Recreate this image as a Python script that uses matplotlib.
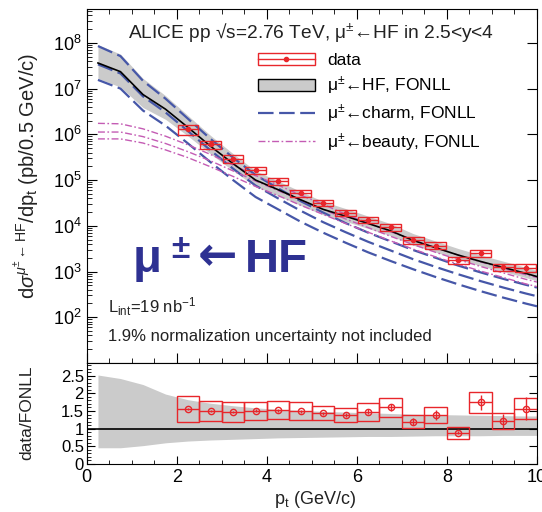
import numpy as np
import matplotlib
matplotlib.use("Agg")
import matplotlib.pyplot as plt
from matplotlib.patches import Rectangle, Patch
from matplotlib.lines import Line2D
from matplotlib.ticker import MultipleLocator, LogLocator, FixedLocator, NullFormatter

plt.rcParams["font.family"] = ["Liberation Sans", "DejaVu Sans"]
plt.rcParams["mathtext.fontset"] = "custom"
plt.rcParams["mathtext.rm"] = "Liberation Sans"
plt.rcParams["mathtext.it"] = "Liberation Sans:italic"
plt.rcParams["mathtext.bf"] = "Liberation Sans:bold"

# measured cross section (pb / 0.5 GeV/c), bins of 0.5 GeV/c
pt_data = [2.25, 2.75, 3.25, 3.75, 4.25, 4.75, 5.25, 5.75,
           6.25, 6.75, 7.25, 7.75, 8.25, 8.75, 9.25, 9.75]
xsec = [1.3e6, 6.0e5, 2.95e5, 1.64e5, 9.4e4, 5.2e4, 3.15e4, 1.9e4,
        1.36e4, 9.4e3, 4.8e3, 3.7e3, 1.76e3, 2.54e3, 1.26e3, 1.22e3]
syst_rel = [0.24, 0.19, 0.19, 0.17, 0.17, 0.17, 0.14, 0.15,
            0.17, 0.17, 0.16, 0.17, 0.19, 0.17, 0.18, 0.19]
stat_rel = [0.02, 0.02, 0.02, 0.03, 0.03, 0.03, 0.03, 0.04,
            0.05, 0.06, 0.09, 0.10, 0.06, 0.12, 0.17, 0.20]
ratio = [1.55, 1.50, 1.48, 1.51, 1.52, 1.49, 1.44, 1.39,
         1.48, 1.60, 1.20, 1.39, 0.89, 1.75, 1.22, 1.57]

# FONLL predictions (log10 of pb / 0.5 GeV/c)
pt_th = [0.25, 0.75, 1.25, 1.75, 2.25, 2.75, 3.25, 3.75, 4.25, 4.75, 5.25,
         5.75, 6.25, 6.75, 7.25, 7.75, 8.25, 8.75, 9.25, 9.75, 10.0]
hf_log = [7.56, 7.37, 6.87, 6.55, 6.15, 5.74, 5.36, 5.00, 4.79, 4.57, 4.36,
          4.21, 4.05, 3.89, 3.68, 3.52, 3.36, 3.22, 3.09, 2.96, 2.89]
band_hi = [2.52, 2.42, 2.25, 1.98, 1.82, 1.72, 1.65, 1.59, 1.55, 1.52, 1.49,
           1.47, 1.45, 1.43, 1.41, 1.40, 1.39, 1.38, 1.37, 1.36, 1.36]
band_lo = [0.46, 0.46, 0.52, 0.60, 0.65, 0.68, 0.70, 0.72, 0.74, 0.75, 0.76,
           0.77, 0.78, 0.78, 0.79, 0.80, 0.80, 0.80, 0.81, 0.81, 0.81]
charm_log = [7.53, 7.33, 6.83, 6.48, 6.07, 5.65, 5.25, 4.88, 4.60, 4.33, 4.08,
             3.86, 3.65, 3.46, 3.27, 3.10, 2.94, 2.79, 2.65, 2.52, 2.46]
charm_hi = [0.40, 0.38, 0.34, 0.30, 0.27, 0.25, 0.24, 0.23, 0.22, 0.21, 0.21,
            0.20, 0.20, 0.20, 0.20, 0.20, 0.19, 0.19, 0.19, 0.19, 0.19]
charm_lo = [0.34, 0.33, 0.31, 0.29, 0.27, 0.26, 0.25, 0.25, 0.24, 0.24, 0.23,
            0.23, 0.23, 0.23, 0.22, 0.22, 0.22, 0.22, 0.22, 0.22, 0.22]
beauty_log = [6.05, 6.05, 5.95, 5.80, 5.62, 5.42, 5.20, 4.98, 4.77, 4.56, 4.36,
              4.15, 3.96, 3.77, 3.59, 3.42, 3.26, 3.11, 2.97, 2.83, 2.77]
beauty_hi = [0.19, 0.18, 0.17, 0.16, 0.15, 0.14, 0.13, 0.12, 0.12, 0.11, 0.11,
             0.10, 0.10, 0.10, 0.10, 0.10, 0.10, 0.10, 0.10, 0.10, 0.10]
beauty_lo = [0.15, 0.15, 0.14, 0.14, 0.13, 0.13, 0.12, 0.12, 0.11, 0.11, 0.11,
             0.10, 0.10, 0.10, 0.10, 0.10, 0.10, 0.10, 0.10, 0.10, 0.10]

RED = "#e8262b"
BLUE = "#4657a8"
PINK = "#c45cb4"
GREY = "#cbcbcb"
TXT = "#222222"
MU = r"μ$^{\pm}$←"

pt_data = np.array(pt_data)
xsec = np.array(xsec)
syst_rel = np.array(syst_rel)
stat_rel = np.array(stat_rel)
ratio = np.array(ratio)
pt_th = np.array(pt_th)
hf = 10 ** np.array(hf_log)
charm = np.array(charm_log)
beauty = np.array(beauty_log)

W, H = 542, 512
fig = plt.figure(figsize=(W / 100, H / 100), dpi=100)
x0, x1 = 86.7 / W, 537 / W
ax = fig.add_axes([x0, 1 - 363 / H, x1 - x0, 354 / H])
axr = fig.add_axes([x0, 1 - 464 / H, x1 - x0, 101 / H])

# --- spectrum ---
ax.fill_between(pt_th, hf * np.array(band_lo), hf * np.array(band_hi),
                color=GREY, lw=0, zorder=1)
dash = (0, (7, 2.5))
for y in [charm, charm + np.array(charm_hi), charm - np.array(charm_lo)]:
    ax.plot(pt_th, 10 ** y, color=BLUE, lw=1.6, ls=dash, zorder=3)
dashdot = (0, (5, 1.8, 1.2, 1.8))
for y in [beauty, beauty + np.array(beauty_hi), beauty - np.array(beauty_lo)]:
    ax.plot(pt_th, 10 ** y, color=PINK, lw=1.0, ls=dashdot, zorder=3)
ax.plot(pt_th, hf, color="black", lw=1.2, zorder=4)

bw = 0.46
for x, y, s in zip(pt_data, xsec, syst_rel):
    ax.add_patch(Rectangle((x - bw / 2, y * (1 - s)), bw, y * 2 * s,
                           fill=False, ec=RED, lw=1.0, zorder=5))
ax.errorbar(pt_data, xsec, yerr=xsec * stat_rel, xerr=bw / 2, fmt="o",
            ms=3, color=RED, lw=1.0, capsize=0, zorder=6)

ax.set_yscale("log")
ax.set_xlim(0, 10)
ax.set_ylim(10, 5.5e8)
ax.yaxis.set_major_locator(FixedLocator([1e2, 1e3, 1e4, 1e5, 1e6, 1e7, 1e8]))
ax.yaxis.set_minor_locator(LogLocator(base=10, subs=np.arange(2, 10), numticks=20))
ax.yaxis.set_minor_formatter(NullFormatter())
ax.xaxis.set_major_locator(MultipleLocator(2))
ax.xaxis.set_minor_locator(MultipleLocator(0.5))
ax.tick_params(axis="x", which="both", direction="in", top=True, labelbottom=False)
ax.tick_params(axis="y", which="major", direction="in", right=True)
ax.tick_params(axis="y", which="minor", direction="in", right=False)
ax.tick_params(which="major", length=7, labelsize=13)
ax.tick_params(which="minor", length=3.5)

ax.text(0.498, 0.935, "ALICE pp √s=2.76 TeV, " + MU + "HF in 2.5<y<4",
        transform=ax.transAxes, ha="center", va="center", fontsize=13.8, color=TXT)

handles = [
    (Rectangle((0, 0), 1, 1, fill=False, ec=RED, lw=1.0),
     Line2D([], [], color=RED, marker="o", ms=3, lw=1.0)),
    Patch(fc=GREY, ec="black", lw=1.0),
    Line2D([], [], color=BLUE, lw=1.6, ls=dash),
    Line2D([], [], color=PINK, lw=1.0, ls=dashdot),
]
labels = ["data", MU + "HF, FONLL", MU + "charm, FONLL", MU + "beauty, FONLL"]
ax.legend(handles, labels, loc="upper left", bbox_to_anchor=(0.38, 0.875),
          frameon=False, fontsize=12.5, handlelength=3.3, handletextpad=0.7,
          borderaxespad=0, borderpad=0, labelspacing=0.35)

ax.text(0.047, 0.159, r"L$_{\rm int}$=19 nb$^{-1}$", transform=ax.transAxes,
        ha="left", va="center", fontsize=12, color=TXT)
ax.text(0.047, 0.076, "1.9% normalization uncertainty not included",
        transform=ax.transAxes, ha="left", va="center", fontsize=12, color=TXT)

# large label, built from pieces so the arrow can come from a bold font that has it
NAVY = "#2e3192"
fig.text(133 / W, 1 - 272 / H, "μ", fontsize=34, fontweight="bold",
         color=NAVY, ha="left", va="baseline")
fig.text(180 / W, 1 - 258 / H, "±", fontsize=24, fontweight="bold",
         color=NAVY, ha="center", va="baseline")
fig.text(218 / W, 1 - 258 / H, "←", fontsize=34, fontweight="bold",
         family="DejaVu Sans", color=NAVY, ha="center", va="center")
fig.text(245 / W, 1 - 272 / H, "HF", fontsize=34, fontweight="bold",
         color=NAVY, ha="left", va="baseline")

fig.text(27 / W, 1 - 176 / H,
         r"d$\sigma^{\mu^{\pm}\leftarrow{\rm HF}}$/dp$_{\rm t}$ (pb/0.5 GeV/c)",
         rotation=90, ha="center", va="center", fontsize=14.5, color=TXT)

# --- ratio ---
axr.fill_between(pt_th, band_lo, band_hi, color=GREY, lw=0, zorder=1)
axr.axhline(1, color="black", lw=1.2, zorder=2)
for x, y, s in zip(pt_data, ratio, syst_rel):
    axr.add_patch(Rectangle((x - 0.25, y * (1 - s)), 0.5, y * 2 * s,
                            fill=False, ec=RED, lw=1.0, zorder=5))
axr.errorbar(pt_data, ratio, yerr=ratio * stat_rel, xerr=0.25, fmt="o", ms=4.5,
             mfc="none", mec=RED, color=RED, lw=1.0, capsize=0, zorder=6)
axr.set_xlim(0, 10)
axr.set_ylim(0, 2.86)
axr.xaxis.set_major_locator(MultipleLocator(2))
axr.xaxis.set_minor_locator(MultipleLocator(0.5))
axr.yaxis.set_major_locator(MultipleLocator(0.5))
axr.yaxis.set_minor_locator(MultipleLocator(0.1))
axr.yaxis.set_major_formatter(lambda v, p: f"{v:g}")
axr.tick_params(axis="x", which="both", direction="in", top=False)
axr.tick_params(axis="y", which="major", direction="in", right=True)
axr.tick_params(axis="y", which="minor", direction="in", right=False)
axr.tick_params(which="major", length=6, labelsize=13)
axr.tick_params(axis="y", labelsize=12, pad=2)
axr.tick_params(which="minor", length=3)

fig.text(27 / W, 1 - 413 / H, "data/FONLL", rotation=90, ha="center",
         va="center", fontsize=12.5, color=TXT)
fig.text(315 / W, 1 - 500 / H, r"p$_{\rm t}$ (GeV/c)", ha="center",
         va="center", fontsize=13, color=TXT)

fig.savefig("out.png", dpi=100)
